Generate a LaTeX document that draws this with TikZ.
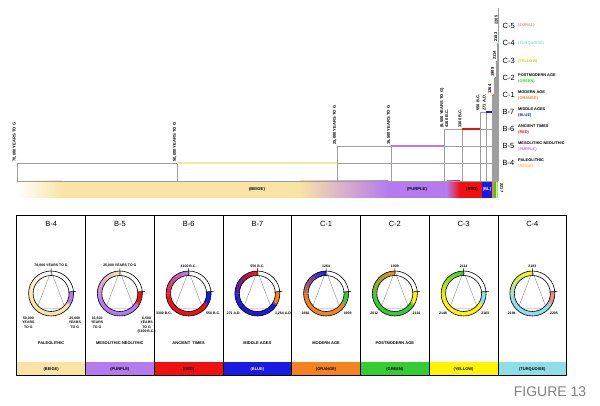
\documentclass[tikz,border=0pt]{standalone}
\usepackage{fontspec}
\setmainfont{Liberation Sans}
\usepackage{tikz}
\usepackage{xcolor}
\definecolor{cbeige}{HTML}{FAE3A5}
\definecolor{cpurple}{HTML}{B57BEE}
\definecolor{cred}{HTML}{F01010}
\definecolor{cblue}{HTML}{1A1AE6}
\definecolor{corange}{HTML}{F5821F}
\definecolor{cgreen}{HTML}{33CC33}
\definecolor{cyellow}{HTML}{FFF500}
\definecolor{cturq}{HTML}{8FDDE6}
\definecolor{ccoral}{HTML}{F08A8A}
\tikzstyle{tline} = [draw=black!38, line width=0.4pt]
\tikzstyle{hilite} = [line width=1.1pt]
\tikzstyle{era} = [font=\fontsize{4.1}{4.5}\selectfont\bfseries, inner sep=0.3pt, rotate=90]
\tikzstyle{rowlab} = [font=\fontsize{7.5}{8}\selectfont, inner sep=0pt, anchor=west]
\tikzstyle{desc} = [font=\fontsize{3.9}{4.4}\selectfont\bfseries, inner sep=0pt, anchor=west]
\tikzstyle{barlab} = [font=\fontsize{4.2}{5}\selectfont\bfseries, inner sep=0pt]
\tikzstyle{frame} = [draw=black, line width=0.8pt]
\tikzstyle{ringline} = [draw=black, line width=0.6pt]
\tikzstyle{tri} = [draw=black!45, line width=0.4pt]
\tikzstyle{ptitle} = [font=\fontsize{7.5}{8}\selectfont, inner sep=0pt]
\tikzstyle{plab} = [font=\fontsize{3.5}{4.3}\selectfont\bfseries, inner sep=0pt, align=center]
\tikzstyle{pname} = [font=\fontsize{4}{4.5}\selectfont\bfseries, inner sep=0pt]
\tikzstyle{stlab} = [font=\fontsize{4}{4.5}\selectfont\bfseries, inner sep=0pt]
\newcommand{\ringseg}[3]{\fill[#3] (#1:22.5) arc[start angle=#1, end angle=#2, radius=22.5] -- (#2:18) arc[start angle=#2, end angle=#1, radius=18] -- cycle;}

\begin{document}
\begin{tikzpicture}[x=1pt,y=1pt]
  \useasboundingbox (0,0) rectangle (600,406);

  \shade[left color=white, right color=cbeige] (16.7,208) rectangle (62,225);
  \fill[cbeige] (61.5,208) rectangle (300,225);
  \shade[left color=cbeige, right color=cpurple] (299.5,208) rectangle (388,225);
  \fill[cpurple] (387.5,208) rectangle (447,225);
  \shade[left color=cpurple, right color=cred] (446.5,208) rectangle (460,225);
  \fill[cred] (459.5,208) rectangle (482,225);
  \fill[cblue] (482,208) rectangle (491.7,225);
  \fill[corange] (491.7,208) rectangle (494,225);
  \fill[cgreen] (494,208) rectangle (496,225);
  \fill[cyellow] (496,208) rectangle (497.4,225);
  \fill[cturq] (497.4,208) rectangle (498.3,225);

  \node[barlab] (barB4) at (257,216.5) {(BEIGE)};
  \node[barlab] (barB5) at (417,216.5) {(PURPLE)};
  \node[barlab] (barB6) at (472,216.5) {(RED)};
  \node[barlab, text=white] (barB7) at (487,216.5) {(BL)};
  \node[era, rotate=180] (endyr) at (501.8,218) {2217};

  \draw[tline] (16.7,225) -- (498.3,225);
  \draw[tline] (498.3,225) -- (498.3,398);
  \foreach \s/\m/\e/\ry/\col in {16.7/177/337/243/cbeige, 337/391/444.5/260/cpurple, 444.5/462/480/277/cred, 480/486/491.7/294/cblue, 491.7/493/494/311/corange, 494/495.1/496/328/cgreen, 496/496.7/497.4/345/cyellow, 497.4/497.7/498/363/cturq}{
    \draw[tline] (\s,225) -- (\s,\ry) -- (498.3,\ry);
    \draw[tline] (\m,225) -- (\m,\ry);
    \draw[hilite, \col] (\m,\ry) -- (\e,\ry);
  }

  \foreach \x/\ry/\t [count=\n] in {16.7/243/{70,000 YEARS TO G}, 177/243/{50,000 YEARS TO G}, 337/260/{25,000 YEARS TO G}, 391/260/{16,500 YEARS TO G}, 444.5/277/{(6,500 YEARS TO G)}, 462/277/{3300 B.C.}, 480/294/{550 B.C.}, 486/294/{271 A.D.}, 491.7/311/{1264}, 494.5/328/{1909}, 496.3/345/{2114}, 497.6/363/{2183}, 498.2/380/{2205}}{
    \node[era, anchor=south west] (yr\n) at (\x,\ry+0.8) {\t};
  }
  \node[era, anchor=north west] (yrB6) at (444.8,277.8) {4100 B.C.};

  \foreach \ry/\nm/\dn/\dc/\col [count=\n] in {380/C-5/{}/(CORAL)/ccoral, 363/C-4/{}/(TURQUOISE)/cturq, 345/C-3/{}/(YELLOW)/cyellow!85!black, 328/C-2/POSTMODERN AGE/(GREEN)/cgreen, 311/C-1/MODERN AGE/(ORANGE)/corange, 294/B-7/MIDDLE AGES/(BLUE)/cblue, 277/B-6/ANCIENT TIMES/(RED)/cred, 260/B-5/MESOLITHIC-NEOLITHIC/(PURPLE)/cpurple, 243/B-4/PALEOLITHIC/(BEIGE)/cbeige!60!orange}{
    \node[rowlab] (row\n) at (502.5,\ry) {\nm};
    \ifx\dn\empty
      \node[desc, text=\col] (col\n) at (518,\ry) {\dc};
    \else
      \node[desc] (desc\n) at (518,\ry+3.1) {\dn};
      \node[desc, text=\col] (col\n) at (518,\ry-3.1) {\dc};
    \fi
  }

  \foreach \k/\ttl/\pc/\cc/\nc/\tp/\lf/\rt/\ly/\nm/\st/\sc in {
    0/B-4/white/cbeige/cpurple/{70,000 YEARS TO G}/{50,000\\YEARS\\TO G}/{25,000\\YEARS\\TO G}/89/PALEOLITHIC/(BEIGE)/black,
    1/B-5/cbeige/cpurple/cred/{25,000 YEARS TO G}/{16,500\\YEARS\\TO G}/{6,500\\YEARS\\TO G\\(5100 B.C.)}/89/MESOLITHIC-NEOLITHIC/(PURPLE)/black,
    2/B-6/cpurple/cred/cblue/4100 B.C./3300 B.C./550 B.C./94/{ANCIENT~~TIMES}/(RED)/black,
    3/B-7/cred/cblue/corange/550 B.C./271 A.D./{1,264 A.D.}/94/MIDDLE AGES/(BLUE)/white,
    4/C-1/cblue/corange/cgreen/1264/1692/1909/94/MODERN AGE/(ORANGE)/black,
    5/C-2/corange/cgreen/cyellow/1909/2012/2114/94/POSTMODERN AGE/(GREEN)/black,
    6/C-3/cgreen/cyellow/cturq/2114/2148/2183/94/{}/(YELLOW)/black,
    7/C-4/cyellow/cturq/ccoral/2183/2194/2205/94/{}/(TURQUOISE)/black}{
    \pgfmathsetmacro\cx{51.1+68.75*\k}
    \pgfmathsetmacro\xl{16.7+68.75*\k}
    \pgfmathsetmacro\xr{\xl+68.75}
    \fill[\cc] (\xl,30.3) rectangle (\xr,44);
    \node[stlab, text=\sc] (st\k) at (\cx,37) {\st};
    \node[ptitle] (ttl\k) at (\cx,182) {\ttl};
    \node[plab] (tp\k) at (\cx,140) {\tp};
    \node[plab, anchor=north east] (lf\k) at (\cx-16.5,\ly) {\lf};
    \node[plab, anchor=north west] (rt\k) at (\cx+17.5,\ly) {\rt};
    \node[pname] (nm\k) at (\cx,62.7) {\nm};
    \begin{scope}[shift={(\cx,112.5)}]
      \draw[tri] (90:22.5) -- (-47:21) -- (227:21) -- cycle;
      \foreach \i in {0,...,21}{
        \pgfmathtruncatemacro\p{round(100*\i/21)}
        \pgfmathsetmacro\a{90+5*\i}
        \pgfmathsetmacro\b{\a+5.6}
        \ringseg{\a}{\b}{\cc!\p!\pc}
      }
      \ringseg{200}{328.5}{\cc}
      \ringseg{328}{333.5}{\cc!50!\nc}
      \ringseg{333}{365}{\nc}
      \draw[ringline] (0,0) circle[radius=22.5] (0,0) circle[radius=18];
      \draw[ringline] (90:18) -- (90:25) (5:17) -- (5:25);
    \end{scope}
  }
  \draw[frame] (16.7,30.3) rectangle (566.7,190.3);
  \foreach \k in {1,...,7}{
    \draw[frame] (16.7+68.75*\k,30.3) -- (16.7+68.75*\k,190.3);
  }

  \node[font=\fontsize{14}{16}\selectfont, text=black!50, inner sep=0pt] (fig) at (550,14) {FIGURE 13};
\end{tikzpicture}
\end{document}
